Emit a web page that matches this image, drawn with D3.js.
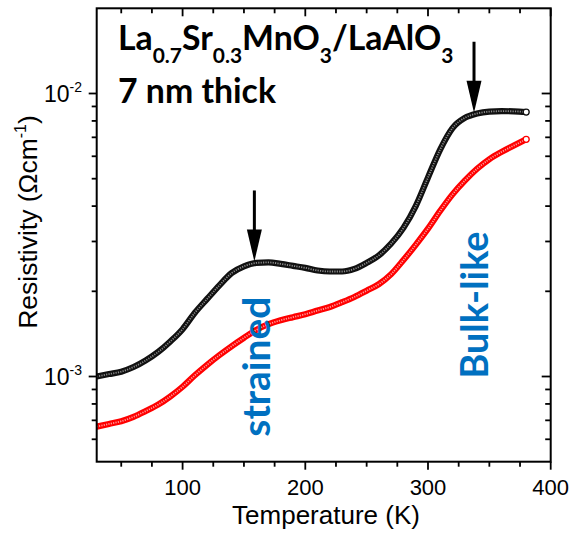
<!DOCTYPE html>
<html>
<head>
<meta charset="utf-8">
<script src="https://cdn.jsdelivr.net/npm/d3@7"></script>
<style>
  html, body { margin: 0; padding: 0; background: #fff; }
  svg { display: block; }
</style>
</head>
<body>
<svg id="chart" width="577" height="542"></svg>
<script>
// ---- data ----
const temperature = [30,40,50,60,70,80,90,100,110,120,130,140,150,160,170,180,190,200,210,220,230,240,250,260,270,280,290,300,310,320,330,340,350,360,370,380];
// resistivity in units of 1e-3 Ohm cm
const rhoStrainedBlack = [1.00,1.02,1.04,1.08,1.14,1.22,1.33,1.47,1.68,1.88,2.10,2.32,2.45,2.52,2.53,2.50,2.46,2.42,2.37,2.35,2.35,2.40,2.52,2.68,2.95,3.35,4.00,5.05,6.35,7.55,8.20,8.50,8.63,8.66,8.65,8.60];
const rhoRed = [0.665,0.68,0.695,0.72,0.755,0.795,0.85,0.92,1.01,1.10,1.19,1.28,1.37,1.46,1.53,1.58,1.62,1.66,1.71,1.76,1.83,1.91,2.01,2.12,2.30,2.58,2.92,3.33,3.85,4.40,4.92,5.42,5.86,6.22,6.55,6.89];
const xMajorTicks = [100,200,300,400];
const xMinorTicks = [50,75,125,150,175,225,250,275,325,350,375];
const yMajorTicks = [1e-3,1e-2];
const yMajorExp = ["-3","-2"];
const yMinorTicks = [6e-4,7e-4,8e-4,9e-4,2e-3,3e-3,4e-3,5e-3,6e-3,7e-3,8e-3,9e-3];
const arrowTemps = [158.5, 337.5];
const arrowTipRho = [2.55e-3, 8.55e-3];
const xTitle = "Temperature (K)";
const yTitleMain = "Resistivity (Ωcm";
const yTitleSup = "-1";
const titleLine2 = "7 nm thick";
const phaseLabels = ["strained","Bulk-like"];

// ---- layout ----
const svg = d3.select("#chart");
const L = 96.7, R = 550.7, T = 8.3, B = 461.7;
const x = d3.scaleLinear().domain([30,400]).range([L,R]);
const y = d3.scaleLog().domain([5e-4,2e-2]).range([B,T]);

svg.append("defs").append("clipPath").attr("id","plotclip")
  .append("rect").attr("x",L).attr("y",T).attr("width",R-L).attr("height",B-T);

// ---- series ----
function drawSeries(vals, outer, inner) {
  const pts = temperature.map((t,i)=>[t, vals[i]*1e-3]);
  const line = d3.line().x(d=>x(d[0])).y(d=>y(d[1])).curve(d3.curveMonotoneX);
  const g = svg.append("g").attr("clip-path","url(#plotclip)");
  g.append("path").attr("d",line(pts)).attr("fill","none")
    .attr("stroke",outer).attr("stroke-width",6.2).attr("stroke-linecap","round");
  g.append("path").attr("d",line(pts)).attr("fill","none")
    .attr("stroke",inner).attr("stroke-width",1.8).attr("stroke-dasharray","1.2 1.2");
  const last = pts[pts.length-1];
  g.append("circle").attr("cx",x(last[0])).attr("cy",y(last[1])).attr("r",3)
    .attr("fill","#fff").attr("stroke",outer).attr("stroke-width",1.3);
}
drawSeries(rhoRed, "#ff0000", "#ff9a9a");
drawSeries(rhoStrainedBlack, "#111", "#8a8a8a");

// ---- axes ----
const axisFont = "'Liberation Sans', Arial, sans-serif";
const ax = svg.append("g").attr("stroke","#000").attr("stroke-width",1.8);
xMajorTicks.forEach(v => {
  ax.append("line").attr("x1",x(v)).attr("x2",x(v)).attr("y1",B).attr("y2",B+8);
  ax.append("line").attr("x1",x(v)).attr("x2",x(v)).attr("y1",T).attr("y2",T+8);
});
xMinorTicks.forEach(v => {
  ax.append("line").attr("x1",x(v)).attr("x2",x(v)).attr("y1",B).attr("y2",B+5);
  ax.append("line").attr("x1",x(v)).attr("x2",x(v)).attr("y1",T).attr("y2",T+5);
});
yMajorTicks.forEach(v => {
  ax.append("line").attr("x1",L-8).attr("x2",L).attr("y1",y(v)).attr("y2",y(v));
  ax.append("line").attr("x1",R-9).attr("x2",R).attr("y1",y(v)).attr("y2",y(v));
});
yMinorTicks.forEach(v => {
  ax.append("line").attr("x1",L-5).attr("x2",L).attr("y1",y(v)).attr("y2",y(v));
  ax.append("line").attr("x1",R-5.5).attr("x2",R).attr("y1",y(v)).attr("y2",y(v));
});
svg.append("rect").attr("x",L).attr("y",T).attr("width",R-L).attr("height",B-T)
  .attr("fill","none").attr("stroke","#000").attr("stroke-width",2);

// tick labels
svg.append("g").selectAll("text").data(xMajorTicks).join("text")
  .attr("x",d=>x(d)).attr("y",494.5).attr("text-anchor","middle")
  .attr("font-family",axisFont).attr("font-size",22).attr("fill","#000")
  .text(d=>d);
const yl = svg.append("g").selectAll("text").data(yMajorTicks).join("text")
  .attr("x",44).attr("y",d=>y(d)+8.5).attr("text-anchor","start")
  .attr("font-family",axisFont).attr("font-size",23).attr("fill","#000");
yl.append("tspan").text("10");
yl.append("tspan").attr("font-size",14).attr("dy",-10).text((d,i)=>yMajorExp[i]);

// axis titles
svg.append("text").attr("x",326).attr("y",523.5).attr("text-anchor","middle")
  .attr("font-family",axisFont).attr("font-size",26).attr("fill","#000").text(xTitle);
const yt = svg.append("text").attr("transform","translate(36.5,222) rotate(-90)")
  .attr("text-anchor","middle").attr("font-family",axisFont).attr("font-size",26.5).attr("fill","#000");
yt.append("tspan").text(yTitleMain);
yt.append("tspan").attr("font-size",16).attr("dy",-11).text(yTitleSup);
yt.append("tspan").attr("dy",11).text(")");

// ---- title ----
const titleFont = "Lato, Carlito, 'Open Sans', sans-serif";
function fitSize(textSel, target) {
  textSel.attr("font-size",100);
  const w = textSel.node().getComputedTextLength();
  return 100*target/w;
}
const l2 = svg.append("text").attr("x",118).attr("y",103)
  .attr("font-family",titleFont).attr("font-weight","bold").attr("fill","#000").text(titleLine2);
const ts = fitSize(l2, 158);
l2.attr("font-size",ts);
const title1Parts = [["La",0],["0.7",1],["Sr",0],["0.3",1],["MnO",0],["3",1],["/LaAlO",0],["3",1]];
const l1 = svg.append("text").attr("x",118).attr("y",49.5)
  .attr("font-family",titleFont).attr("font-weight","bold").attr("fill","#000").attr("font-size",ts);
let prevSub = 0;
title1Parts.forEach(([s,sub]) => {
  const shift = 13;
  const dy = sub && !prevSub ? shift : (!sub && prevSub ? -shift : 0);
  l1.append("tspan").attr("dy",dy).attr("font-size", sub ? ts*0.62 : ts).text(s);
  prevSub = sub;
});

// ---- phase labels ----
const phaseX = [270.3, 488.3];
const phaseY = [366.7, 305];
const phaseW = [140, 147];
phaseLabels.forEach((s,i) => {
  const t = svg.append("text").attr("font-family",titleFont).attr("font-weight","bold")
    .attr("fill","#0070C0").attr("text-anchor","middle").text(s);
  const fs = fitSize(t, phaseW[i]);
  t.attr("font-size",fs).attr("transform",`translate(${phaseX[i]},${phaseY[i]}) rotate(-90)`);
});

// ---- arrows ----
arrowTemps.forEach((tK,i) => {
  const ax0 = x(tK), tip = y(arrowTipRho[i]);
  svg.append("line").attr("x1",ax0).attr("x2",ax0).attr("y1",tip-71).attr("y2",tip-28)
    .attr("stroke","#000").attr("stroke-width",3);
  svg.append("path").attr("d",`M${ax0},${tip} L${ax0-7.5},${tip-32} L${ax0+7.5},${tip-32} Z`)
    .attr("fill","#000");
});
</script>
</body>
</html>
